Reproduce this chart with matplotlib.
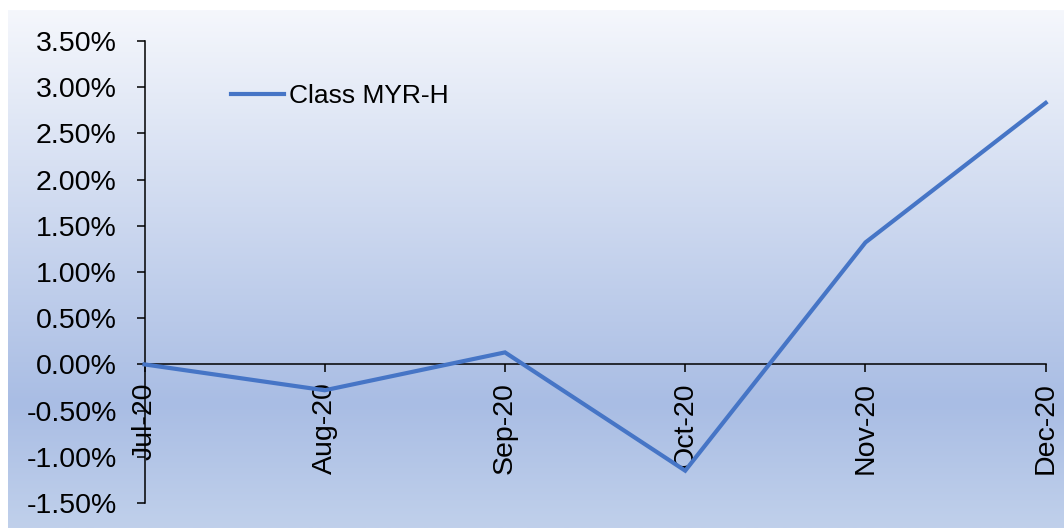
import matplotlib
matplotlib.use("Agg")
import matplotlib.pyplot as plt
import numpy as np
from matplotlib.colors import LinearSegmentedColormap
from matplotlib.ticker import FuncFormatter

# values (percent)
months = ["Jul-20", "Aug-20", "Sep-20", "Oct-20", "Nov-20", "Dec-20"]
class_myr_h = [0.00, -0.28, 0.13, -1.15, 1.32, 2.83]
series_name = "Class MYR-H"
y_ticks = [-1.5, -1.0, -0.5, 0.0, 0.5, 1.0, 1.5, 2.0, 2.5, 3.0, 3.5]

W, H = 1064, 528
plt.rcParams["font.family"] = ["Liberation Sans", "DejaVu Sans"]

fig = plt.figure(figsize=(W / 100, H / 100), dpi=100)

# gradient background panel (Excel style chart area)
bg = fig.add_axes([8 / W, 0, 1 - 8 / W, 1 - 10 / H], zorder=0)
cmap = LinearSegmentedColormap.from_list(
    "bg", [(0.0, "#f5f7fc"), (0.76, "#a9bde4"), (1.0, "#c0d0eb")])
grad = np.linspace(0, 1, 256).reshape(-1, 1)
bg.imshow(grad, aspect="auto", cmap=cmap, extent=(0, 1, 0, 1), origin="upper")
bg.set_axis_off()

left, right = 144.5 / W, 1045.7 / W
top, bottom = 1 - 41 / H, 1 - 503 / H
ax = fig.add_axes([left, bottom, right - left, top - bottom], zorder=1)
ax.patch.set_alpha(0)

x = np.arange(len(months))
ax.plot(x, class_myr_h, color="#4675c6", lw=3.0, label=series_name,
        solid_joinstyle="miter", zorder=2.4, clip_on=False)

ax.set_xlim(0, len(months) - 1)
ax.set_ylim(y_ticks[0], y_ticks[-1])
ax.set_yticks(y_ticks)
ax.yaxis.set_major_formatter(FuncFormatter(lambda v, p: f"{v:.2f}%"))
ax.set_xticks(x)
ax.set_xticklabels(months)

for s in ["top", "right"]:
    ax.spines[s].set_visible(False)
ax.spines["bottom"].set_position(("data", 0))
for s in ["bottom", "left"]:
    ax.spines[s].set_linewidth(1.1)
    ax.spines[s].set_zorder(2.3)

ax.tick_params(axis="y", direction="out", length=6, width=1.1, pad=14,
               labelsize=20.5)
ax.tick_params(axis="x", direction="out", length=6, width=1.1, pad=7,
               labelsize=20.5, labelrotation=90)

ax.legend(loc="center left", bbox_to_anchor=(231 / W, 1 - 96 / H),
          bbox_transform=fig.transFigure, frameon=False, fontsize=19,
          handlelength=2.0, handletextpad=0.2, borderpad=0, borderaxespad=0)

fig.savefig("out.png", dpi=100)
